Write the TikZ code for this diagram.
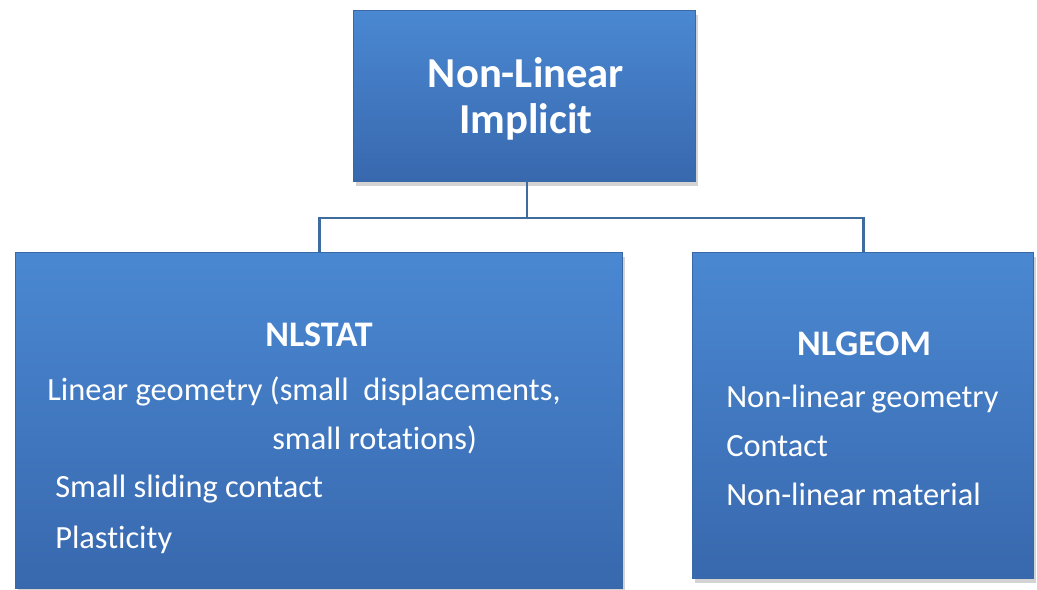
\documentclass[tikz,border=0pt]{standalone}
\usepackage{fontspec}
\setmainfont{Carlito}[Ligatures=NoCommon]
\usepackage{tikz}
\usetikzlibrary{positioning, shadows}

\definecolor{boxtop}{HTML}{4A88D2}
\definecolor{boxbot}{HTML}{3868AE}
\definecolor{boxline}{HTML}{3A68A6}
\definecolor{wire}{HTML}{3F6C9E}

\begin{document}
\begin{tikzpicture}[
    x=0.75pt, y=-0.75pt,
    box/.style={rectangle, draw=boxline, line width=1pt, inner sep=0pt,
        top color=boxtop, bottom color=boxbot, anchor=north west,
        drop shadow={shadow xshift=2pt, shadow yshift=-3pt, opacity=0.35}},
    title/.style={text=white, font=\fontsize{32}{34}\selectfont\bfseries, align=center},
    head/.style={text=white, font=\fontsize{27}{30}\selectfont\bfseries},
    item/.style={text=white, font=\fontsize{24.3}{28}\selectfont, anchor=base west, inner sep=0pt},
    wire/.style={draw=wire, line width=2.2pt},
]
    \useasboundingbox (0,0) rectangle (1037,589);

    % --- Boxes ---
    \node[box, minimum width=256.5pt, minimum height=128.25pt] (top)    at (353,10)  {};
    \node[box, minimum width=455.25pt, minimum height=252pt]   (nlstat) at (15,252)  {};
    \node[box, minimum width=255.75pt, minimum height=244.5pt] (nlgeom) at (692,252) {};

    % --- Connectors ---
    \coordinate (split) at (527,218);
    \draw[wire] (527,181) -- (split);
    \draw[wire] (split) -| (nlstat.north);
    \draw[wire] (split) -| (nlgeom.north);

    % --- Top box text ---
    \node[title] (ttl) at (526,99) {Non-Linear\\Implicit};

    % --- NLSTAT text ---
    \node[head] (hstat) at (319,335) {NLSTAT};
    \node[item] (s1) at (47,400)  {Linear geometry (small\ \ displacements,};
    \node[item] (s2) at (272,449) {small rotat{\kern0pt}ions)};
    \node[item] (s3) at (55,497)  {Small sliding contact};
    \node[item] (s4) at (55,548)  {Plast{\kern0pt}icity};

    % --- NLGEOM text ---
    \node[head] (hgeom) at (864,344) {NLGEOM};
    \node[item] (g1) at (726,407) {Non-linear\,geometry};
    \node[item] (g2) at (726,456) {Contact};
    \node[item] (g3) at (726,505) {Non-linear\,material};
\end{tikzpicture}
\end{document}
